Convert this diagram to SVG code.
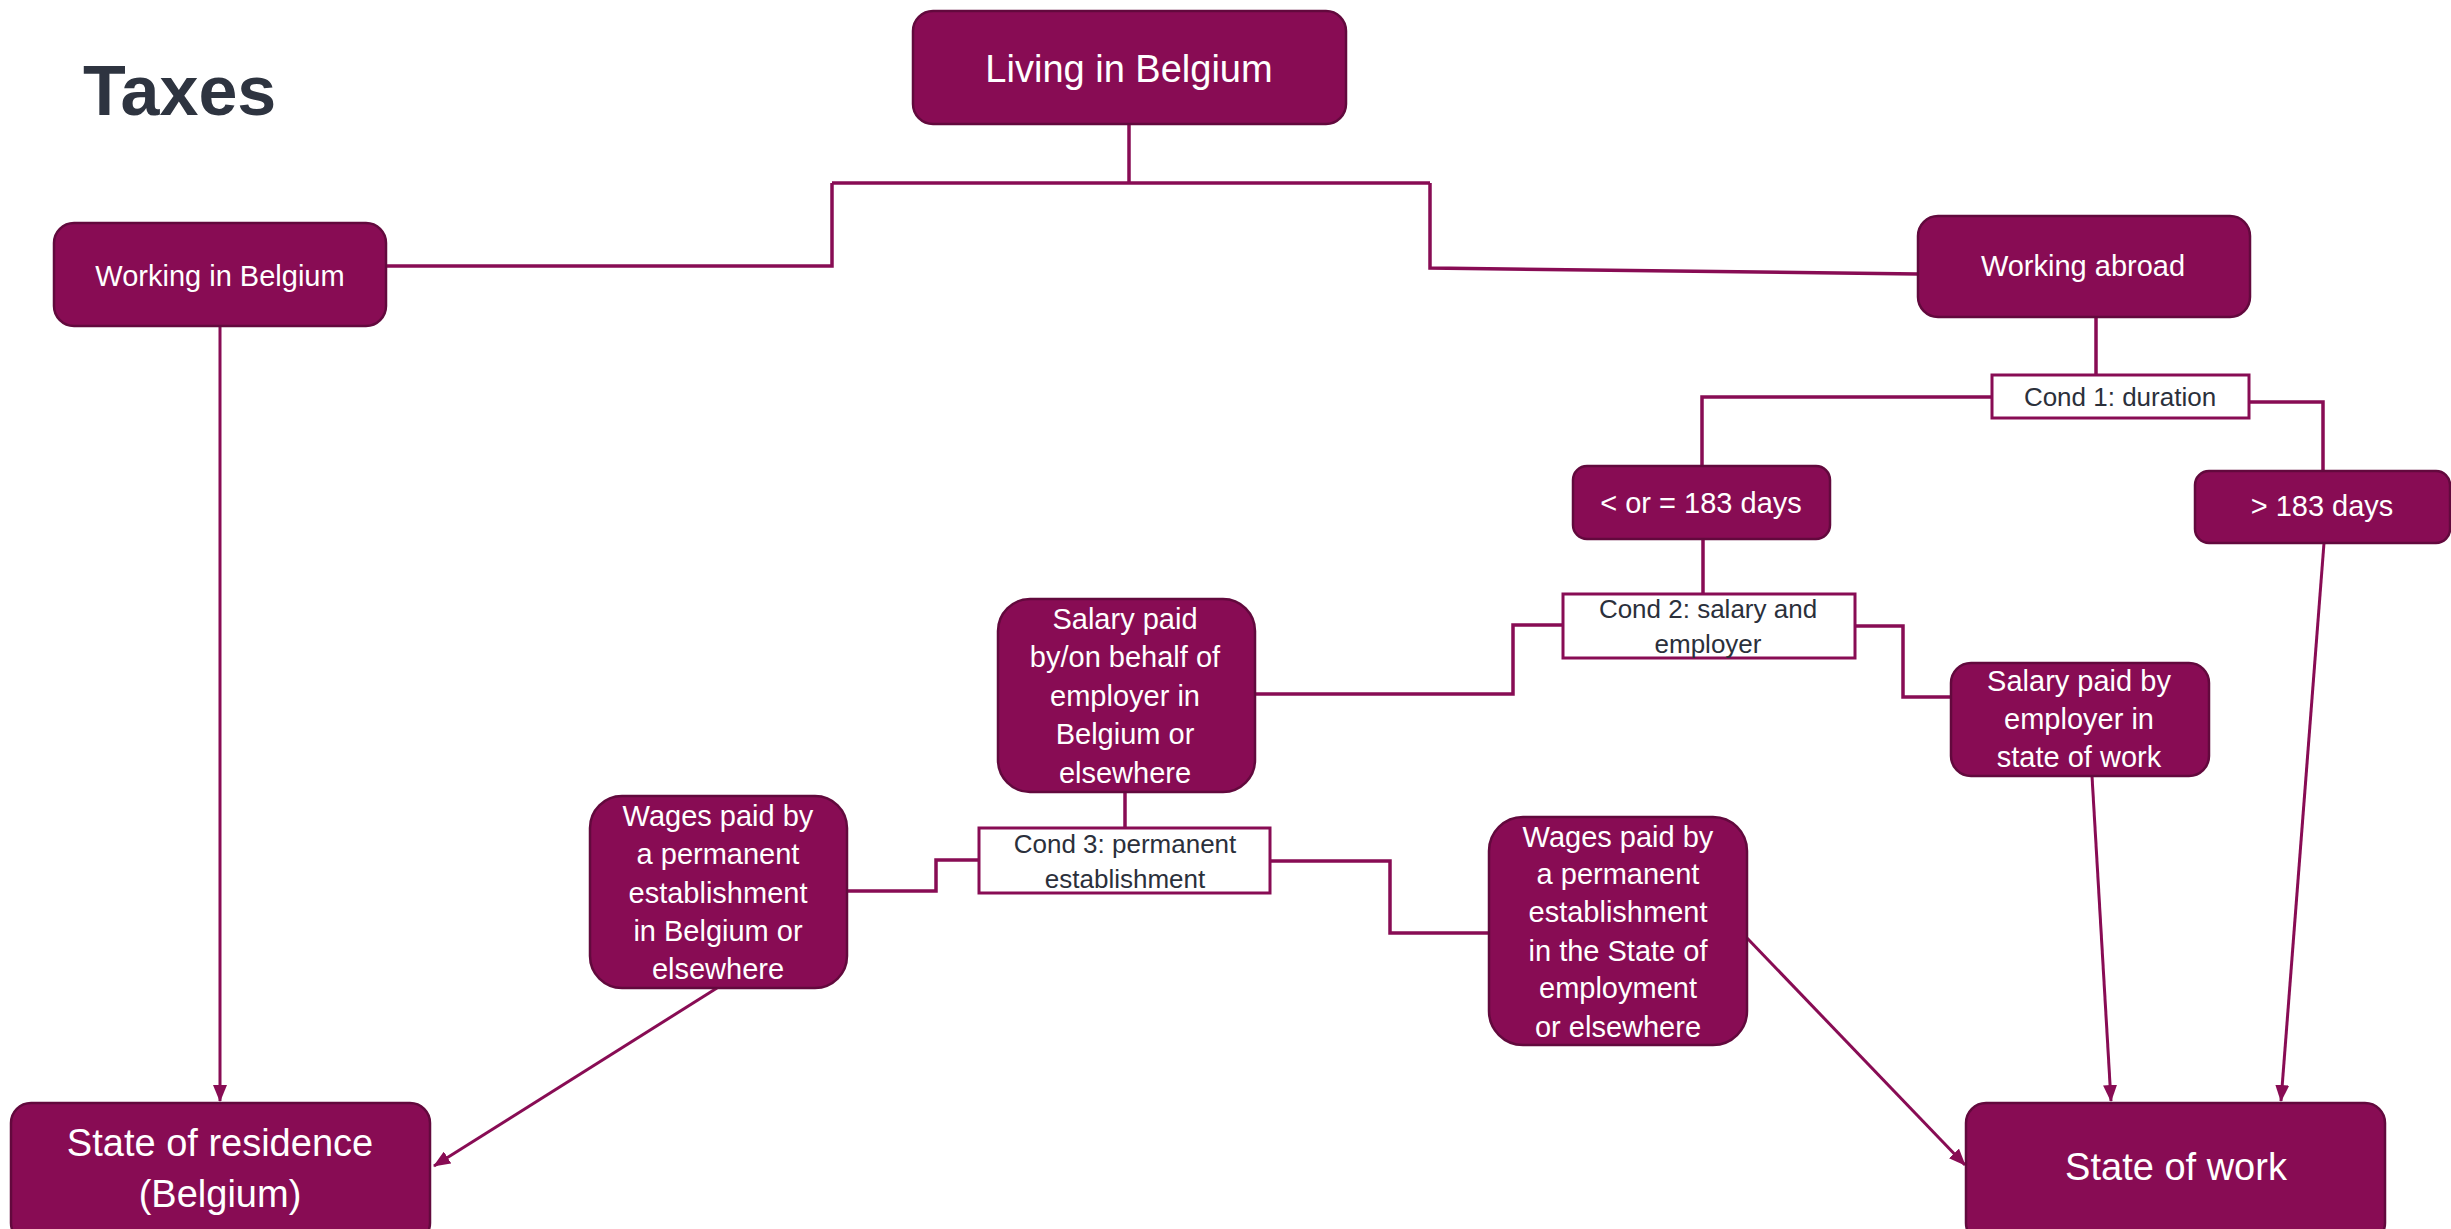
<svg xmlns="http://www.w3.org/2000/svg" width="2451" height="1229" viewBox="0 0 2451 1229">
<style>
.box{fill:#880c54;stroke:#62093d;stroke-width:2.5}
.cond{fill:#ffffff;stroke:#880c54;stroke-width:3}
.t{font-family:"Liberation Sans",Arial,sans-serif;fill:#ffffff;text-anchor:middle}
.ct{font-family:"Liberation Sans",Arial,sans-serif;fill:#2b303b;text-anchor:middle;font-size:26px}
.s29{font-size:29px}
.s38{font-size:38px}
.c{fill:none;stroke:#880c54;stroke-width:3.5}
.a{fill:none;stroke:#880c54;stroke-width:3;marker-end:url(#arr)}
</style>
<defs>
<marker id="arr" markerUnits="userSpaceOnUse" markerWidth="17" markerHeight="14" refX="16" refY="7" orient="auto">
<path d="M0,0 L17,7 L0,14 z" fill="#880c54"/>
</marker>
</defs>
<rect width="2451" height="1229" fill="#ffffff"/>
<text x="83" y="115" font-family="Liberation Sans,Arial,sans-serif" font-weight="bold" font-size="70" fill="#2e3440">Taxes</text>

<g id="connectors">
<path class="c" d="M1129,124 V183"/>
<path class="c" d="M832,183 H1430"/>
<path class="c" d="M832,183 V266 H386"/>
<path class="c" d="M1430,183 V268 L1918,274"/>
<path class="a" d="M220,326 V1101"/>
<path class="c" d="M2096,317 V375"/>
<path class="c" d="M1992,397 H1702 V466"/>
<path class="c" d="M2249,402 H2323 V471"/>
<path class="c" d="M1703,539 V594"/>
<path class="c" d="M1563,625 H1513 V694 H1255"/>
<path class="c" d="M1855,626 H1903 V697 H1951"/>
<path class="c" d="M1125,792 V828"/>
<path class="c" d="M979,860 H936 V891 H847"/>
<path class="c" d="M1270,861 H1390 V933 H1489"/>
<path class="a" d="M717,988 L434,1166"/>
<path class="a" d="M1747,938 L1965,1165"/>
<path class="a" d="M2092,776 L2111,1101"/>
<path class="a" d="M2324,543 L2281,1101"/>
</g>

<g id="living">
<rect class="box" x="913" y="11" width="433" height="113" rx="20"/>
<text class="t s38" x="1129" y="82">Living in Belgium</text>
</g>
<g id="working-belgium">
<rect class="box" x="54" y="223" width="332" height="103" rx="20"/>
<text class="t s29" x="220" y="286">Working in Belgium</text>
</g>
<g id="working-abroad">
<rect class="box" x="1918" y="216" width="332" height="101" rx="20"/>
<text class="t s29" x="2083" y="276">Working abroad</text>
</g>
<g id="cond1">
<rect class="cond" x="1992" y="375" width="257" height="43"/>
<text class="ct" x="2120" y="406">Cond 1: duration</text>
</g>
<g id="le183">
<rect class="box" x="1573" y="466" width="257" height="73" rx="14"/>
<text class="t s29" x="1701" y="513">&lt; or = 183 days</text>
</g>
<g id="gt183">
<rect class="box" x="2195" y="471" width="255" height="72" rx="14"/>
<text class="t s29" x="2322" y="516">&gt; 183 days</text>
</g>
<g id="cond2">
<rect class="cond" x="1563" y="594" width="292" height="64"/>
<text class="ct" x="1708" y="618">Cond 2: salary and</text>
<text class="ct" x="1708" y="653">employer</text>
</g>
<g id="salary-belgium">
<rect class="box" x="998" y="599" width="257" height="193" rx="32"/>
<text class="t s29" x="1125" y="629">Salary paid</text>
<text class="t s29" x="1125" y="667">by/on behalf of</text>
<text class="t s29" x="1125" y="706">employer in</text>
<text class="t s29" x="1125" y="744">Belgium or</text>
<text class="t s29" x="1125" y="783">elsewhere</text>
</g>
<g id="salary-state">
<rect class="box" x="1951" y="663" width="258" height="113" rx="20"/>
<text class="t s29" x="2079" y="691">Salary paid by</text>
<text class="t s29" x="2079" y="729">employer in</text>
<text class="t s29" x="2079" y="767">state of work</text>
</g>
<g id="cond3">
<rect class="cond" x="979" y="828" width="291" height="65"/>
<text class="ct" x="1125" y="853">Cond 3: permanent</text>
<text class="ct" x="1125" y="888">establishment</text>
</g>
<g id="wages-belgium">
<rect class="box" x="590" y="796" width="257" height="192" rx="32"/>
<text class="t s29" x="718" y="826">Wages paid by</text>
<text class="t s29" x="718" y="864">a permanent</text>
<text class="t s29" x="718" y="903">establishment</text>
<text class="t s29" x="718" y="941">in Belgium or</text>
<text class="t s29" x="718" y="979">elsewhere</text>
</g>
<g id="wages-state">
<rect class="box" x="1489" y="817" width="258" height="228" rx="34"/>
<text class="t s29" x="1618" y="847">Wages paid by</text>
<text class="t s29" x="1618" y="884">a permanent</text>
<text class="t s29" x="1618" y="922">establishment</text>
<text class="t s29" x="1618" y="961">in the State of</text>
<text class="t s29" x="1618" y="998">employment</text>
<text class="t s29" x="1618" y="1037">or elsewhere</text>
</g>
<g id="state-residence">
<rect class="box" x="11" y="1103" width="419" height="140" rx="20"/>
<text class="t s38" x="220" y="1156">State of residence</text>
<text class="t s38" x="220" y="1207">(Belgium)</text>
</g>
<g id="state-work">
<rect class="box" x="1966" y="1103" width="419" height="140" rx="20"/>
<text class="t s38" x="2176" y="1180">State of work</text>
</g>
</svg>
